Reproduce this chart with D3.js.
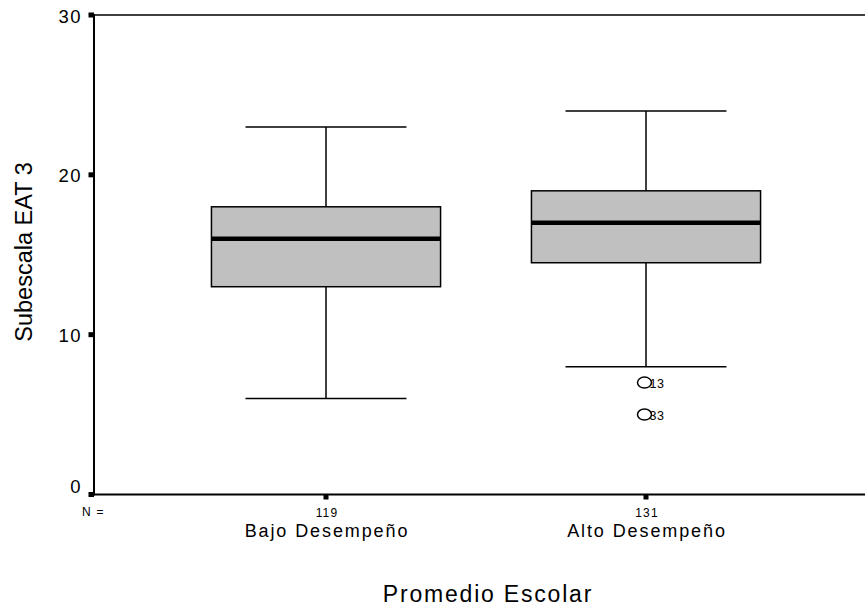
<!DOCTYPE html>
<html>
<head>
<meta charset="utf-8">
<script src="https://cdn.jsdelivr.net/npm/d3@7"></script>
<style>
  body { margin: 0; background: #fff; }
  svg { font-family: Arial, "Liberation Sans", sans-serif; }
</style>
</head>
<body>
<div id="chart"></div>
<script>
// group names and counts
const groups = ['Bajo Desempeño', 'Alto Desempeño'];
const counts = [119, 131];
// box statistics per group
const whiskerLow = [6, 8];
const q1 = [13, 14.5];
const median = [16, 17];
const q3 = [18, 19];
const whiskerHigh = [23, 24];
// outliers: [group index, value, case label]
const outliers = [[1, 7, '13'], [1, 5, '33']];
const yTicks = [0, 10, 20, 30];

const width = 865, height = 607;
const plot = {left: 94, top: 15, bottom: 494.5};

const svg = d3.select('#chart')
    .append('svg')
    .attr('width', width)
    .attr('height', height);

const yScale = d3.scaleLinear()
    .domain([0, 30])
    .range([plot.bottom, plot.top]);

const xScale = d3.scaleBand()
    .domain(groups)
    .range([plot.left, plot.left + 784])
    .paddingInner(0)
    .paddingOuter(0.225);

const boxW = xScale.bandwidth() * 0.716;
const capW = xScale.bandwidth() * 0.503;
const center = g => xScale(g) + xScale.bandwidth() / 2;

// frame (top border, right side runs off the page)
svg.append('line')
    .attr('x1', plot.left).attr('x2', plot.left + 784)
    .attr('y1', plot.top).attr('y2', plot.top)
    .attr('stroke', '#000').attr('stroke-width', 1.5);

// boxes
groups.forEach((g, i) => {
    const cx = center(g);
    const grp = svg.append('g');
    // whisker lines
    grp.append('line')
        .attr('x1', cx).attr('x2', cx)
        .attr('y1', yScale(whiskerHigh[i])).attr('y2', yScale(q3[i]))
        .attr('stroke', '#000').attr('stroke-width', 1.5);
    grp.append('line')
        .attr('x1', cx).attr('x2', cx)
        .attr('y1', yScale(q1[i])).attr('y2', yScale(whiskerLow[i]))
        .attr('stroke', '#000').attr('stroke-width', 1.5);
    // caps
    [whiskerHigh[i], whiskerLow[i]].forEach(v => {
        grp.append('line')
            .attr('x1', cx - capW / 2).attr('x2', cx + capW / 2)
            .attr('y1', yScale(v)).attr('y2', yScale(v))
            .attr('stroke', '#000').attr('stroke-width', 1.5);
    });
    grp.append('rect')
        .attr('x', cx - boxW / 2)
        .attr('y', yScale(q3[i]))
        .attr('width', boxW)
        .attr('height', yScale(q1[i]) - yScale(q3[i]))
        .attr('fill', '#c0c0c0')
        .attr('stroke', '#000').attr('stroke-width', 1.5);
    grp.append('line')
        .attr('x1', cx - boxW / 2).attr('x2', cx + boxW / 2)
        .attr('y1', yScale(median[i])).attr('y2', yScale(median[i]))
        .attr('stroke', '#000').attr('stroke-width', 4.5);
});

// outliers
outliers.forEach(o => {
    const cx = center(groups[o[0]]) - 1.5;
    svg.append('ellipse')
        .attr('cx', cx).attr('cy', yScale(o[1]))
        .attr('rx', 7).attr('ry', 5.5)
        .attr('fill', 'none').attr('stroke', '#000').attr('stroke-width', 1.5);
    svg.append('text')
        .attr('x', cx + 5).attr('y', yScale(o[1]) + 5)
        .attr('font-size', 12.5)
        .attr('letter-spacing', 0.5)
        .text(o[2]);
});

// y axis
svg.append('line')
    .attr('x1', plot.left).attr('x2', plot.left)
    .attr('y1', plot.top - 1).attr('y2', plot.bottom + 1)
    .attr('stroke', '#000').attr('stroke-width', 2);
yTicks.forEach(t => {
    svg.append('rect')
        .attr('x', plot.left - 5.5).attr('y', yScale(t) - 2.5)
        .attr('width', 5.5).attr('height', 5)
        .attr('fill', '#000');
    svg.append('text')
        .attr('x', 82)
        .attr('y', yScale(t) + (t === 0 ? -2 : 7.5))
        .attr('text-anchor', 'end')
        .attr('font-size', 18.5)
        .attr('letter-spacing', 1.5)
        .text(t);
});

// x axis
svg.append('line')
    .attr('x1', plot.left).attr('x2', width)
    .attr('y1', plot.bottom).attr('y2', plot.bottom)
    .attr('stroke', '#000').attr('stroke-width', 2);
groups.forEach((g, i) => {
    const cx = center(g);
    svg.append('rect')
        .attr('x', cx - 2.5).attr('y', plot.bottom)
        .attr('width', 5).attr('height', 5)
        .attr('fill', '#000');
    svg.append('text')
        .attr('x', cx + 1).attr('y', 516.5)
        .attr('text-anchor', 'middle')
        .attr('font-size', 12)
        .attr('letter-spacing', 1.2)
        .text(counts[i]);
    svg.append('text')
        .attr('x', cx + 1).attr('y', 536.5)
        .attr('text-anchor', 'middle')
        .attr('font-size', 18)
        .attr('letter-spacing', 1.9)
        .text(g);
});
svg.append('text')
    .attr('x', 82).attr('y', 516)
    .attr('font-size', 12)
    .attr('letter-spacing', 1.2)
    .text('N =');

// titles
svg.append('text')
    .attr('x', 488).attr('y', 602)
    .attr('text-anchor', 'middle')
    .attr('font-size', 23)
    .attr('letter-spacing', 1.8)
    .text('Promedio Escolar');
svg.append('text')
    .attr('transform', `translate(32,252) rotate(-90)`)
    .attr('text-anchor', 'middle')
    .attr('font-size', 23.5)
    .text('Subescala EAT 3');
</script>
</body>
</html>
